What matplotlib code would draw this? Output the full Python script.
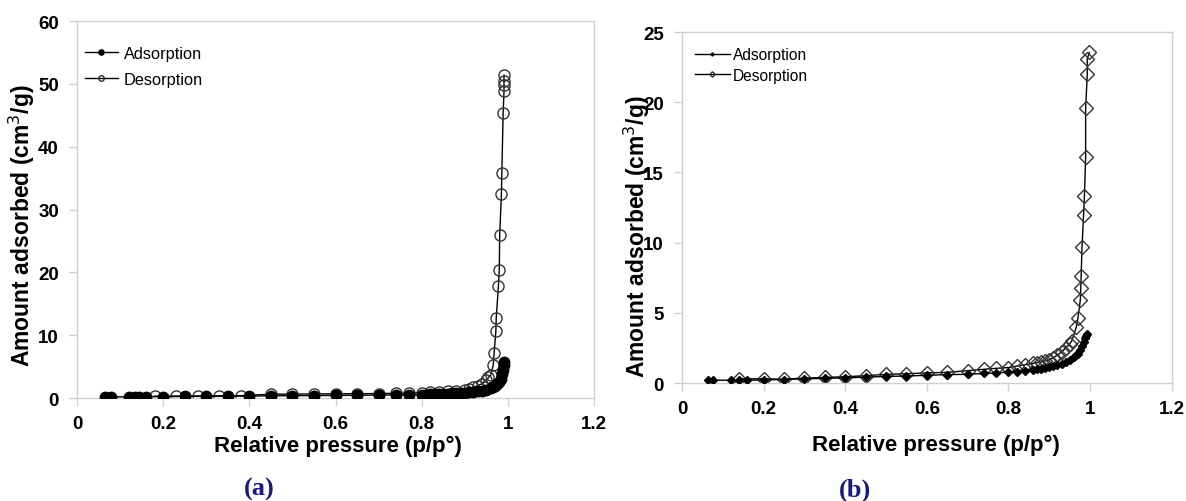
import numpy as np
import matplotlib
matplotlib.use("Agg")
import matplotlib.pyplot as plt

# ---- panel (a) data ----
a_ads_x = [0.065, 0.08, 0.12, 0.135, 0.145, 0.16, 0.2, 0.25, 0.3, 0.35, 0.4, 0.45, 0.5, 0.55,
           0.6, 0.65, 0.7, 0.74, 0.77, 0.8, 0.81, 0.82, 0.83, 0.84, 0.85, 0.86, 0.87, 0.88,
           0.89, 0.9, 0.91, 0.92, 0.93, 0.94, 0.95, 0.96, 0.965, 0.97, 0.975, 0.98, 0.984,
           0.987, 0.989, 0.99, 0.99]
a_ads_y = [0.2, 0.2, 0.2, 0.22, 0.22, 0.22, 0.24, 0.26, 0.28, 0.3, 0.32, 0.36, 0.38, 0.4,
           0.42, 0.45, 0.48, 0.5, 0.52, 0.55, 0.57, 0.6, 0.62, 0.65, 0.68, 0.7, 0.74, 0.78,
           0.82, 0.88, 0.95, 1.02, 1.1, 1.2, 1.35, 1.55, 1.7, 1.9, 2.2, 2.6, 3.1, 3.8,
           4.5, 5.2, 5.8]
a_des_x = [0.18, 0.23, 0.28, 0.33, 0.38, 0.45, 0.5, 0.55, 0.6, 0.65, 0.7, 0.74, 0.77, 0.8,
           0.82, 0.84, 0.86, 0.88, 0.9, 0.91, 0.92, 0.93, 0.94, 0.95, 0.955, 0.96, 0.966,
           0.968, 0.972, 0.973, 0.978, 0.98, 0.981, 0.985, 0.986, 0.989, 0.991, 0.991,
           0.991, 0.991]
a_des_y = [0.3, 0.32, 0.34, 0.36, 0.38, 0.62, 0.64, 0.66, 0.68, 0.7, 0.72, 0.76, 0.8, 0.88,
           0.95, 1.02, 1.1, 1.2, 1.35, 1.5, 1.7, 1.95, 2.3, 2.8, 3.3, 3.6, 5.25, 7.1, 10.6,
           12.8, 17.8, 20.4, 25.9, 32.5, 35.9, 45.3, 48.9, 49.8, 50.5, 51.4]

# ---- panel (b) data ----
b_ads_x = [0.065, 0.075, 0.12, 0.14, 0.16, 0.2, 0.25, 0.3, 0.35, 0.4, 0.45, 0.5, 0.55, 0.6,
           0.65, 0.7, 0.74, 0.77, 0.8, 0.82, 0.84, 0.86, 0.87, 0.88, 0.89, 0.9, 0.91, 0.92,
           0.93, 0.94, 0.95, 0.96, 0.965, 0.97, 0.975, 0.98, 0.984, 0.988, 0.99, 0.992]
b_ads_y = [0.2, 0.2, 0.2, 0.2, 0.2, 0.22, 0.25, 0.3, 0.33, 0.37, 0.42, 0.47, 0.5, 0.55,
           0.6, 0.62, 0.68, 0.72, 0.78, 0.82, 0.88, 0.95, 0.98, 1.02, 1.07, 1.12, 1.2, 1.28,
           1.38, 1.5, 1.65, 1.85, 1.98, 2.1, 2.35, 2.65, 2.95, 3.2, 3.35, 3.5]
b_des_x = [0.14, 0.2, 0.25, 0.3, 0.35, 0.4, 0.45, 0.5, 0.55, 0.6, 0.65, 0.7, 0.74, 0.77,
           0.8, 0.82, 0.84, 0.86, 0.87, 0.88, 0.89, 0.9, 0.91, 0.92, 0.93, 0.94, 0.95,
           0.955, 0.966, 0.97, 0.976, 0.977, 0.978, 0.98, 0.984, 0.986, 0.989, 0.989,
           0.993, 0.993, 0.998]
b_des_y = [0.3, 0.3, 0.28, 0.35, 0.4, 0.45, 0.52, 0.62, 0.66, 0.72, 0.76, 0.88, 0.98, 1.05,
           1.1, 1.2, 1.3, 1.4, 1.45, 1.5, 1.58, 1.65, 1.8, 2.0, 2.2, 2.5, 2.8, 3.0, 3.97,
           4.6, 5.93, 6.74, 7.6, 9.66, 12.0, 13.3, 16.1, 19.6, 22.0, 23.1, 23.55]

x_ticks = [0, 0.2, 0.4, 0.6, 0.8, 1, 1.2]
x_ticklabels = ["0", "0.2", "0.4", "0.6", "0.8", "1", "1.2"]

plt.rcParams['font.family'] = ['Liberation Sans', 'DejaVu Sans']

fig = plt.figure(figsize=(11.86, 5.02), dpi=100)
ax_a = fig.add_axes([0.0649, 0.205, 0.436, 0.751])
ax_b = fig.add_axes([0.575, 0.235, 0.413, 0.699])

grey = '#d0d0d0'


def style_axes(ax, ymax, ystep):
    for s in ax.spines.values():
        s.set_color(grey)
        s.set_linewidth(1.0)
    ax.set_xlim(0, 1.2)
    ax.set_ylim(0, ymax)
    ax.set_xticks(x_ticks)
    ax.set_xticklabels(x_ticklabels)
    ax.set_yticks(np.arange(0, ymax + 0.1, ystep))
    ax.tick_params(axis='both', color=grey, length=6, width=1.0, labelsize=13.5,
                   direction='out')
    ax.tick_params(axis='x', pad=6)
    ax.tick_params(axis='y', pad=7)
    for lab in ax.get_xticklabels() + ax.get_yticklabels():
        lab.set_fontweight('bold')
    ax.set_xlabel('Relative pressure (p/p°)', fontsize=16, fontweight='bold', va='center')
    ax.set_ylabel('Amount adsorbed (cm$^3$/g)', fontsize=16.5, fontweight='bold', va='center')


# (a)
ax_a.plot(a_ads_x, a_ads_y, color='black', lw=1.0, marker='o', ms=7.5,
          mfc='black', mec='black', label='Adsorption', zorder=3)
ax_a.plot(a_des_x, a_des_y, color='black', lw=1.0, marker='o', ms=8,
          mfc='none', mec='#333333', mew=1.0, label='Desorption', zorder=2)
style_axes(ax_a, 60, 10)
ax_a.xaxis.set_label_coords(0.505, -0.125)
ax_a.yaxis.set_label_coords(-0.106, 0.46)
ax_a.legend(loc='upper left', bbox_to_anchor=(0.0155, 0.934), frameon=False,
            borderpad=0, borderaxespad=0, fontsize=11.8, handlelength=2.0,
            handletextpad=0.37, markerscale=0.5, labelspacing=0.65)

# (b)
ax_b.plot(b_ads_x, b_ads_y, color='black', lw=1.0, marker='D', ms=4,
          mfc='black', mec='black', label='Adsorption', zorder=3)
ax_b.plot(b_des_x, b_des_y, color='black', lw=1.0, marker='D', ms=7,
          mfc='none', mec='#333333', mew=1.0, label='Desorption', zorder=2)
style_axes(ax_b, 25, 5)
ax_b.xaxis.set_label_coords(0.518, -0.174)
ax_b.yaxis.set_label_coords(-0.092, 0.42)
ax_b.legend(loc='upper left', bbox_to_anchor=(0.0265, 0.957), frameon=False,
            borderpad=0, borderaxespad=0, fontsize=11.2, handlelength=2.25,
            handletextpad=0.2, markerscale=0.4, labelspacing=0.35)

# captions
fig.text(0.219, 0.024, '(a)', family=['Liberation Serif', 'DejaVu Serif'],
         fontsize=19, fontweight='bold', color='#1a1a80', ha='center', va='center')
fig.text(0.721, 0.024, '(b)', family=['Liberation Serif', 'DejaVu Serif'],
         fontsize=19, fontweight='bold', color='#1a1a80', ha='center', va='center')

fig.savefig('out.png', dpi=100)
